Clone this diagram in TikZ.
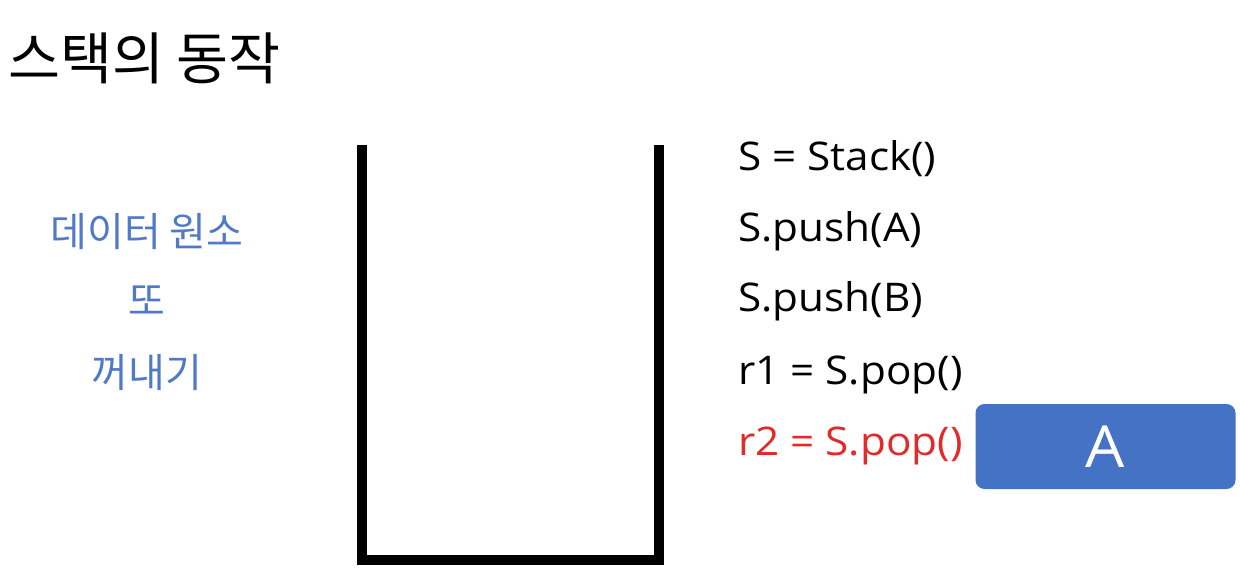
\documentclass[tikz,border=0pt]{standalone}
\usepackage{fontspec}
\setmainfont{Open Sans}[FakeStretch=1.07]
\newfontfamily\kor{Noto Sans CJK KR}
\definecolor{blueA}{RGB}{68,114,196}
\definecolor{blueT}{RGB}{80,122,200}
\definecolor{redC}{RGB}{226,42,42}
\begin{document}
\begin{tikzpicture}[x=1pt,y=-1pt,
  code/.style={anchor=base west,inner sep=0pt,font=\fontsize{39.5}{42}\selectfont},
  blabel/.style={inner sep=0pt,text=blueT,font=\kor\fontsize{40}{42}\selectfont}]
\useasboundingbox (0,0) rectangle (1240,586);
\node[anchor=base west,inner sep=0pt,font=\kor\fontsize{56.5}{60}\selectfont] (title) at (8,80) {스택의 동작};
\node[blabel] (l1) at (147,232) {데이터 원소};
\node[blabel] (l2) at (147,301) {또};
\node[blabel] (l3) at (147,373) {꺼내기};
\coordinate (tl) at (362,145);
\coordinate (bl) at (362,559.5);
\coordinate (br) at (659,559.5);
\coordinate (tr) at (659,145);
\draw[line width=10pt,line join=miter] (tl) -- (bl) -- (br) -- (tr);
\node[code] (c1) at (738,170) {S = Stack()};
\node[code] (c2) at (738,241) {S.push(A)};
\node[code] (c3) at (738,311) {S.push(B)};
\node[code] (c4) at (738,384) {r1 = S.pop()};
\node[code,text=redC] (c5) at (738,455) {r2 = S.pop()};
\node[fill=blueA,rounded corners=9pt,minimum width=260pt,minimum height=85pt,inner sep=0pt,text=white,font=\fontsize{58}{60}\selectfont] (boxA) at (1105.5,446.5) {A};
\end{tikzpicture}
\end{document}
